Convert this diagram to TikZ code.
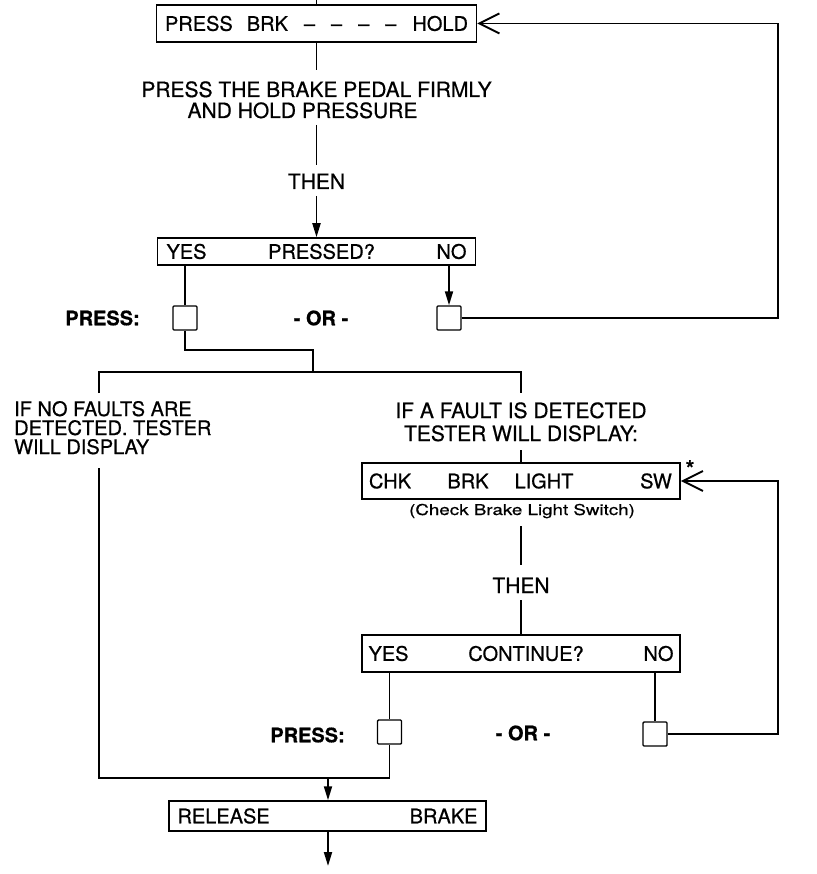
\documentclass[tikz,border=0pt]{standalone}
\usepackage{fontspec}
\setmainfont{TeX Gyre Heros}[FakeBold=0.6]
\usepackage{graphicx}
\usetikzlibrary{arrows.meta}
\begin{document}
\begin{tikzpicture}[x=1pt,y=-1pt,
  conn/.style={line width=1.9pt},
  boxs/.style={draw,line width=1.5pt,inner sep=0pt,font=\fontsize{20}{24}\selectfont},
  sq/.style={draw,line width=1.4pt,minimum size=24pt,inner sep=0pt,rounded corners=1pt},
  instr/.style={font=\fontsize{21}{25}\selectfont,inner sep=0pt},
  instrb/.style={font=\fontsize{20}{24}\selectfont,inner sep=0pt},
  boxtxt/.style={font=\fontsize{20}{24}\selectfont,inner sep=0pt},
  boldlab/.style={font=\bfseries\fontsize{20}{24}\selectfont,inner sep=0pt},
  arr/.style={conn,-{Triangle[length=14pt,width=8pt]}},
  barb/.style={conn,-{Straight Barb[length=20pt,width=20pt,line width=1.9pt]}},
]
\useasboundingbox (0,0) rectangle (816,874);

% ---- top box
\node[boxs,minimum width=320pt,minimum height=37pt] (b1) at (316.5,23.5)
  {\hbox to 303pt{PRESS\hspace{14pt}BRK\hfill--\hfill--\hfill--\hfill--\hfill HOLD}};
\coordinate (top) at (316.5,0);
\draw[conn] (top) -- (b1.north);
\coordinate (t1a) at (316.5,70);
\draw[conn] (b1.south) -- (t1a);
\node[instr,anchor=base] (t1) at (316.5,97) {PRESS THE BRAKE PEDAL FIRMLY};
\node[instr,anchor=base] (t2) at (302.5,118) {AND HOLD PRESSURE};
\coordinate (t2b) at (316.5,125);
\coordinate (t3a) at (316.5,165);
\draw[conn] (t2b) -- (t3a);
\node[instr,anchor=base] (then1) at (316.5,189) {THEN};
\coordinate (t3b) at (316.5,196);

% ---- pressed box
\node[boxs,minimum width=318pt,minimum height=27pt] (b2) at (316.5,251.5)
  {\hbox to 300pt{YES\hfill PRESSED?\hfill NO}};
\draw[arr] (t3b) -- (b2.north);

\node[sq] (s1) at (185,318) {};
\node[sq] (s2) at (449,318) {};
\draw[conn] (s1.north |- b2.south) -- (s1.north);
\draw[arr] (s2.north |- b2.south) -- (s2.north);
\node[boldlab,anchor=east] (p1) at (140,318) {PRESS:};
\node[boldlab] (or1) at (321,318) {- OR -};

\coordinate (rx1) at (778,318);
\draw[barb] (s2.east) -- (rx1) |- (b1.east);

% ---- split
\coordinate (ja) at (313,372);
\coordinate (jl) at (99,372);
\coordinate (jr) at (521,372);
\coordinate (l1) at (99,393);
\coordinate (r1) at (521,393);
\draw[conn] (s1.south) -- ++(0,19) -| (ja);
\draw[conn] (l1) -- (jl) -- (jr) -- (r1);

\node[instrb,anchor=base west] (n1) at (14,416) {IF NO FAULTS ARE};
\node[instrb,anchor=base west] (n2) at (14,435) {DETECTED. TESTER};
\node[instrb,anchor=base west] (n3) at (14,454) {WILL DISPLAY};

\node[instr,anchor=base] (f1) at (521,418) {IF A FAULT IS DETECTED};
\node[instr,anchor=base] (f2) at (521,441) {TESTER WILL DISPLAY:};
\coordinate (r2) at (521,450);

% ---- check brake light switch box
\node[boxs,minimum width=318pt,minimum height=36pt] (b3) at (521,481) {};
\node[boxtxt] (c1) at (390,481) {CHK};
\node[boxtxt] (c2) at (468,481) {BRK};
\node[boxtxt] (c3) at (544,481) {LIGHT};
\node[boxtxt] (c4) at (656,481) {SW};
\node[font=\bfseries\fontsize{22}{24}\selectfont,anchor=north,inner sep=0pt] (star) at (690,460) {*};
\draw[conn] (r2) -- (b3.north);
\node[font=\fontsize{15}{18}\selectfont,anchor=base,inner sep=0pt] (cap) at (522,515)
  {\scalebox{1.25}[1]{(Check Brake Light Switch)}};

\coordinate (r3) at (521,526);
\coordinate (r4) at (521,565);
\draw[conn] (r3) -- (r4);
\node[instr,anchor=base] (then2) at (521,593) {THEN};
\coordinate (r5) at (521,600);

% ---- continue box
\node[boxs,minimum width=318pt,minimum height=37pt] (b4) at (521,653.5)
  {\hbox to 305pt{YES\hfill CONTINUE?\hfill NO}};
\draw[conn] (r5) -- (b4.north);

\node[sq] (s3) at (389.5,732) {};
\node[sq] (s4) at (655,734) {};
\draw[conn] (s3.north |- b4.south) -- (s3.north);
\draw[conn] (s4.north |- b4.south) -- (s4.north);
\node[boldlab,anchor=east] (p2) at (345,735) {PRESS:};
\node[boldlab] (or2) at (523,733) {- OR -};

\coordinate (rx2) at (778,734);
\draw[barb] (s4.east) -- (rx2) |- (b3.east);

% ---- merge
\coordinate (l2) at (99,468);
\coordinate (lb) at (99,778);
\draw[conn] (l2) -- (lb) -- (s3.south |- lb) -- (s3.south);
\coordinate (jb) at (328,778);

% ---- release box
\node[boxs,minimum width=317pt,minimum height=30pt] (b5) at (327.5,816)
  {\hbox to 300pt{RELEASE\hfill BRAKE}};
\draw[arr] (jb) -- (jb |- b5.north);
\coordinate (endp) at (328,866);
\draw[arr] (b5.south -| endp) -- (endp);
\end{tikzpicture}
\end{document}
